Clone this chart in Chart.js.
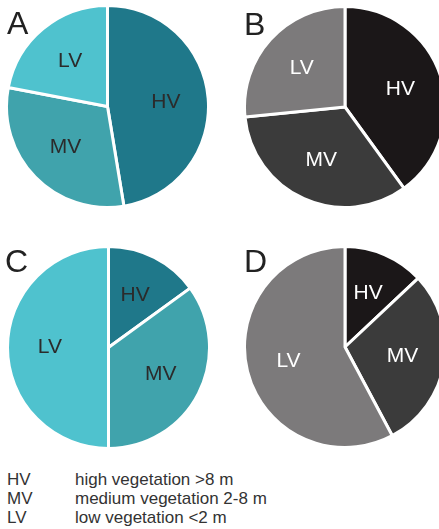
<!DOCTYPE html>
<html>
<head>
<meta charset="utf-8">
<script src="https://cdn.jsdelivr.net/npm/chart.js@4.4.0/dist/chart.umd.min.js"></script>
<style>
  html, body { margin: 0; padding: 0; background: #fff; width: 439px; height: 529px; overflow: hidden; }
  body { position: relative; font-family: "Liberation Sans", Arial, sans-serif; }
  canvas { position: absolute; }
  .panel { position: absolute; font-size: 32px; color: #222; line-height: 1; }
  .legend { position: absolute; left: 7px; top: 470px; font-size: 17px; color: #333; line-height: 19px; }
  .legend div span { display: inline-block; width: 68px; }
</style>
</head>
<body>
<canvas id="pieA" width="205" height="205" style="left:5px;top:4px"></canvas>
<canvas id="pieB" width="204" height="204" style="left:243px;top:5px"></canvas>
<canvas id="pieC" width="205" height="205" style="left:6px;top:245px"></canvas>
<canvas id="pieD" width="204" height="204" style="left:243px;top:245px"></canvas>

<div class="panel" style="left:7px;top:7px">A</div>
<div class="panel" style="left:244px;top:8px">B</div>
<div class="panel" style="left:5px;top:245px">C</div>
<div class="panel" style="left:244px;top:245px">D</div>

<div class="legend" id="legend"></div>

<script>
// vegetation classes, same order in every pie (clockwise from 12 o'clock)
const categories = ["HV", "MV", "LV"]
const legendText = ["high vegetation >8 m", "medium vegetation 2-8 m", "low vegetation <2 m"]

// share of each class (%)
const valuesA = [47.4, 30.6, 22.0]
const valuesB = [40.0, 33.4, 26.6]
const valuesC = [15.0, 35.0, 50.0]
const valuesD = [13.0, 29.2, 57.8]

const tealColors = ["#1f788a", "#40a3ac", "#4fc2ce"]
const greyColors = ["#1b1718", "#3b3b3b", "#7c7a7b"]

// draw the class name inside each slice
const sliceLabels = {
  id: "sliceLabels",
  afterDatasetsDraw(chart, args, opts) {
    const ctx = chart.ctx
    const meta = chart.getDatasetMeta(0)
    ctx.save()
    ctx.font = "21px 'Liberation Sans', Arial, sans-serif"
    ctx.fillStyle = opts.color
    ctx.textAlign = "center"
    ctx.textBaseline = "middle"
    meta.data.forEach((arc, i) => {
      const p = arc.getProps(["x", "y", "startAngle", "endAngle", "outerRadius"], true)
      const mid = (p.startAngle + p.endAngle) / 2
      const r = p.outerRadius * 0.58
      ctx.fillText(chart.data.labels[i], p.x + Math.cos(mid) * r, p.y + Math.sin(mid) * r)
    })
    ctx.restore()
  },
}

function createPie(id, values, colors, textColor) {
  const canvas = document.getElementById(id)
  if (!canvas) return
  new Chart(canvas.getContext("2d"), {
    type: "pie",
    data: {
      labels: categories,
      datasets: [
        {
          data: values,
          backgroundColor: colors,
          borderColor: "#ffffff",
          borderWidth: 3,
        },
      ],
    },
    options: {
      responsive: false,
      animation: false,
      layout: { padding: 0 },
      plugins: {
        legend: { display: false },
        tooltip: { enabled: false },
        sliceLabels: { color: textColor },
      },
    },
    plugins: [sliceLabels],
  })
}

createPie("pieA", valuesA, tealColors, "#2b2b2b")
createPie("pieB", valuesB, greyColors, "#ffffff")
createPie("pieC", valuesC, tealColors, "#2b2b2b")
createPie("pieD", valuesD, greyColors, "#ffffff")

const legend = document.getElementById("legend")
categories.forEach((c, i) => {
  const row = document.createElement("div")
  row.innerHTML = "<span>" + c + "</span>" + legendText[i]
  legend.appendChild(row)
})
</script>
</body>
</html>
